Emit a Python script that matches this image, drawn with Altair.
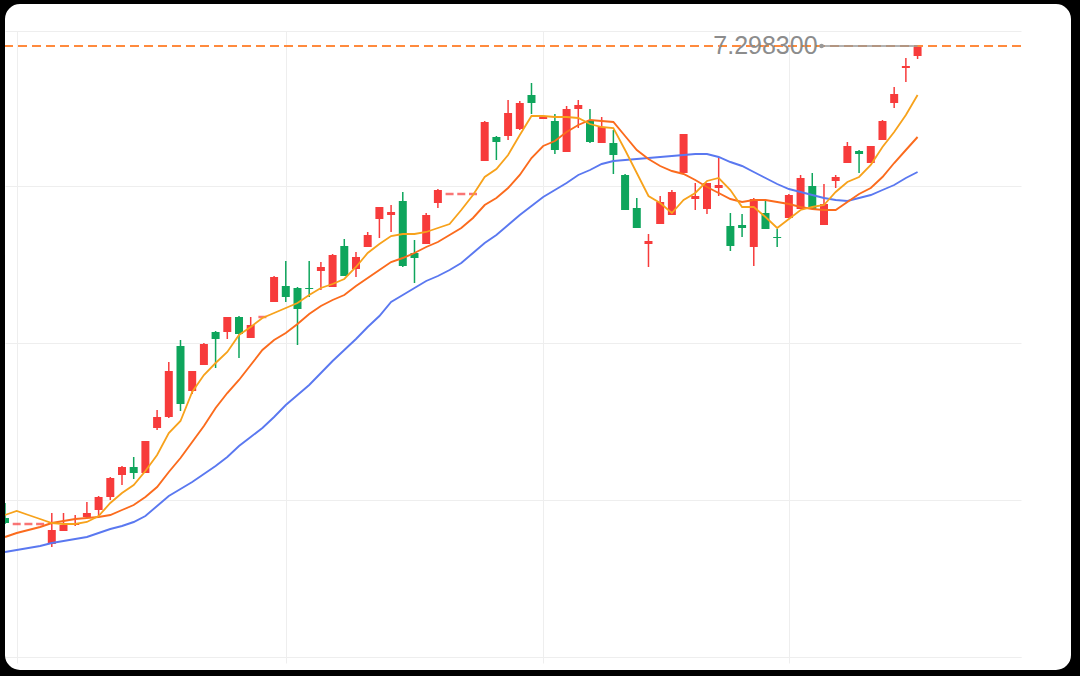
import altair as alt
import pandas as pd
import numpy as np

# ---- data (price units) ----
opens = [6.8263, 6.8203, 6.8203, 6.8203, 6.8003, 6.8133, 6.8193, 6.8273, 6.8343, 6.8473,
         6.8693, 6.8773, 6.8713, 6.9163, 6.9273, 6.9983, 6.9533, 6.9793, 7.0123, 7.0123,
         7.0273, 7.0063, 7.0273, 7.0423, 7.0583, 7.0563, 7.0563, 7.0733, 7.0573, 7.0983,
         7.0753, 7.0973, 7.1253, 7.1293, 7.1433, 7.0913, 7.1003, 7.1413, 7.1503, 7.1503,
         7.1503, 7.1833, 7.2073, 7.2083, 7.2153, 7.2493, 7.2253, 7.2233, 7.1923, 7.2353,
         7.2233, 7.2013, 7.2013, 7.1693, 7.1363, 7.1003, 7.1203, 7.1293, 7.1713, 7.1453,
         7.1353, 7.1563, 7.1183, 7.1193, 7.0973, 7.1313, 7.1073, 7.1263, 7.1353, 7.1583,
         7.1193, 7.1633, 7.1813, 7.1933, 7.1813, 7.2043, 7.2413, 7.2763, 7.2883]
highs = [6.8413, 6.8203, 6.8203, 6.8203, 6.8313, 6.8313, 6.8293, 6.8423, 6.8483, 6.8673,
         6.8783, 6.8873, 6.9033, 6.9343, 6.9823, 7.0043, 6.9733, 7.0013, 7.0133, 7.0273,
         7.0283, 7.0273, 7.0273, 7.0683, 7.0833, 7.0573, 7.0833, 7.0823, 7.0903, 7.1053,
         7.0923, 7.1123, 7.1373, 7.1393, 7.1523, 7.1043, 7.1313, 7.1553, 7.1503, 7.1503,
         7.1503, 7.2233, 7.2083, 7.2443, 7.2433, 7.2613, 7.2273, 7.2303, 7.2383, 7.2443,
         7.2353, 7.2273, 7.2143, 7.1703, 7.1463, 7.1103, 7.1483, 7.1543, 7.2103, 7.1613,
         7.1613, 7.1863, 7.1313, 7.1303, 7.1463, 7.1433, 7.1153, 7.1503, 7.1693, 7.1713,
         7.1603, 7.1693, 7.2023, 7.1943, 7.1983, 7.2243, 7.2573, 7.2863, 7.2983]
lows = [6.8203, 6.8203, 6.8203, 6.8203, 6.7973, 6.8133, 6.8183, 6.8263, 6.8273, 6.8443,
        6.8593, 6.8653, 6.8713, 6.9143, 6.9263, 6.9333, 6.9503, 6.9793, 6.9763, 7.0053,
        6.9863, 7.0063, 7.0273, 7.0423, 7.0423, 6.9993, 7.0473, 7.0543, 7.0573, 7.0683,
        7.0673, 7.0973, 7.1063, 7.1123, 7.0773, 7.0613, 7.1003, 7.1363, 7.1503, 7.1503,
        7.1503, 7.1833, 7.1843, 7.2043, 7.2143, 7.2303, 7.2253, 7.1903, 7.1923, 7.2163,
        7.2013, 7.2013, 7.1703, 7.1343, 7.1163, 7.0773, 7.1203, 7.1293, 7.1713, 7.1343,
        7.1303, 7.1483, 7.0933, 7.1073, 7.0783, 7.1153, 7.0973, 7.1263, 7.1353, 7.1353,
        7.1193, 7.1563, 7.1813, 7.1713, 7.1813, 7.2043, 7.2363, 7.2623, 7.2853]
closes = [6.8213, 6.8203, 6.8203, 6.8203, 6.8143, 6.8193, 6.8213, 6.8313, 6.8473, 6.8663,
          6.8773, 6.8713, 6.9033, 6.9273, 6.9733, 6.9403, 6.9733, 7.0003, 7.0053, 7.0273,
          7.0103, 7.0193, 7.0273, 7.0673, 7.0473, 7.0353, 7.0553, 7.0773, 7.0893, 7.0683,
          7.0873, 7.1093, 7.1373, 7.1323, 7.0783, 7.0863, 7.1293, 7.1543, 7.1503, 7.1503,
          7.1503, 7.2223, 7.2023, 7.2313, 7.2413, 7.2413, 7.2273, 7.1943, 7.2353, 7.2393,
          7.2023, 7.2173, 7.1893, 7.1343, 7.1163, 7.1033, 7.1423, 7.1523, 7.2103, 7.1483,
          7.1613, 7.1593, 7.0983, 7.1163, 7.1453, 7.1153, 7.1063, 7.1493, 7.1663, 7.1353,
          7.1403, 7.1673, 7.1983, 7.1903, 7.1983, 7.2233, 7.2503, 7.2783, 7.2973]
ma5 = [6.8293, 6.8333, 6.8293, 6.8253, 6.8213, 6.8203, 6.8203, 6.8223, 6.8283, 6.8413,
       6.8513, 6.8593, 6.8733, 6.8893, 6.9113, 6.9233, 6.9523, 6.9693, 6.9813, 6.9923,
       7.0093, 7.0173, 7.0263, 7.0313, 7.0363, 7.0413, 7.0493, 7.0563, 7.0603, 7.0653,
       7.0773, 7.0913, 7.1003, 7.1083, 7.1103, 7.1103, 7.1123, 7.1163, 7.1203, 7.1343,
       7.1493, 7.1673, 7.1753, 7.1893, 7.2093, 7.2283, 7.2283, 7.2273, 7.2273, 7.2263,
       7.2203, 7.2173, 7.2163, 7.1943, 7.1713, 7.1483, 7.1413, 7.1313, 7.1443, 7.1513,
       7.1633, 7.1663, 7.1543, 7.1373, 7.1373, 7.1273, 7.1163, 7.1253, 7.1343, 7.1373,
       7.1393, 7.1523, 7.1623, 7.1673, 7.1793, 7.1973, 7.2123, 7.2293, 7.2493]
ma10 = [6.8073, 6.8113, 6.8143, 6.8173, 6.8213, 6.8233, 6.8253, 6.8263, 6.8273, 6.8293,
        6.8343, 6.8393, 6.8473, 6.8573, 6.8723, 6.8863, 6.9023, 6.9183, 6.9363, 6.9513,
        6.9643, 6.9793, 6.9943, 7.0043, 7.0113, 7.0203, 7.0303, 7.0383, 7.0443, 7.0493,
        7.0583, 7.0663, 7.0743, 7.0823, 7.0863, 7.0913, 7.0973, 7.1023, 7.1093, 7.1163,
        7.1263, 7.1393, 7.1463, 7.1563, 7.1693, 7.1863, 7.1983, 7.2033, 7.2123, 7.2193,
        7.2243, 7.2233, 7.2223, 7.2083, 7.1943, 7.1853, 7.1783, 7.1733, 7.1703, 7.1643,
        7.1573, 7.1513, 7.1453, 7.1423, 7.1443, 7.1443, 7.1423, 7.1403, 7.1373, 7.1353,
        7.1343, 7.1343, 7.1423, 7.1503, 7.1563, 7.1673, 7.1813, 7.1943, 7.2073]
ma20 = [6.7923, 6.7943, 6.7963, 6.7983, 6.8013, 6.8033, 6.8053, 6.8073, 6.8113, 6.8153,
        6.8183, 6.8223, 6.8283, 6.8383, 6.8483, 6.8553, 6.8623, 6.8703, 6.8783, 6.8873,
        6.8983, 6.9073, 6.9163, 6.9273, 6.9393, 6.9493, 6.9593, 6.9713, 6.9833, 6.9943,
        7.0053, 7.0173, 7.0283, 7.0423, 7.0493, 7.0563, 7.0633, 7.0683, 7.0743, 7.0813,
        7.0913, 7.1013, 7.1093, 7.1193, 7.1293, 7.1383, 7.1473, 7.1543, 7.1613, 7.1693,
        7.1743, 7.1803, 7.1833, 7.1843, 7.1853, 7.1863, 7.1873, 7.1883, 7.1893, 7.1903,
        7.1903, 7.1873, 7.1823, 7.1783, 7.1723, 7.1663, 7.1603, 7.1553, 7.1523, 7.1493,
        7.1463, 7.1443, 7.1433, 7.1463, 7.1493, 7.1543, 7.1593, 7.1663, 7.1723]
month_start_idx = [1, 24, 46, 67]
grid_levels = [6.6873, 6.8443, 7.0013, 7.1583, 7.3133]

RED = "#f73b3b"
GREEN = "#0ea55c"

n = len(opens)
df = pd.DataFrame({"i": list(range(n)), "open": opens, "high": highs, "low": lows,
                   "close": closes, "ma5": ma5, "ma10": ma10, "ma20": ma20})
df["dir"] = np.where(df["close"] >= df["open"], "up", "down")

imax = int(np.argmax(highs))
maxdf = pd.DataFrame({"i": [imax], "high": [highs[imax]],
                      "label": [f"{highs[imax]:.6f}"]})

xs = alt.Scale(domain=[0, 86.84], nice=False, zero=False, padding=0)
ys = alt.Scale(domain=[grid_levels[0], grid_levels[-1]], nice=False, zero=False, padding=0)
col = alt.Color("dir:N", scale=alt.Scale(domain=["up", "down"], range=[RED, GREEN]), legend=None)

base = alt.Chart(df)

wick = base.mark_rule(strokeWidth=1.5).encode(
    x=alt.X("i:Q", scale=xs, axis=alt.Axis(values=month_start_idx, labels=False, ticks=True,
                                           tickSize=6, tickColor="#eeeeee", grid=True,
                                           gridColor="#eeeeee", domainColor="#eeeeee", title=None)),
    y=alt.Y("low:Q", scale=ys, axis=alt.Axis(values=grid_levels, labels=False, ticks=False,
                                             domain=False, grid=True, gridColor="#eeeeee",
                                             title=None)),
    y2="high:Q",
    color=col,
)
body = base.mark_bar(size=8).encode(x=alt.X("i:Q", scale=xs), y=alt.Y("open:Q", scale=ys),
                                    y2="close:Q", color=col)
flat = base.transform_filter("datum.open == datum.close").mark_tick(
    orient="horizontal", size=8, thickness=2.5).encode(
    x=alt.X("i:Q", scale=xs), y=alt.Y("close:Q", scale=ys), color=col)

line20 = base.mark_line(color="#5a78f0", strokeWidth=1.9).encode(
    x=alt.X("i:Q", scale=xs), y=alt.Y("ma20:Q", scale=ys))
line10 = base.mark_line(color="#fb6b1d", strokeWidth=1.9).encode(
    x=alt.X("i:Q", scale=xs), y=alt.Y("ma10:Q", scale=ys))
line5 = base.mark_line(color="#f7a21b", strokeWidth=1.8).encode(
    x=alt.X("i:Q", scale=xs), y=alt.Y("ma5:Q", scale=ys))

mx = alt.Chart(maxdf)
dash = mx.mark_rule(color="#ff8a3d", strokeWidth=2, strokeDash=[9, 5]).encode(
    y=alt.Y("high:Q", scale=ys))
pointer = mx.mark_rule(color="#999999", strokeWidth=1.5, x2Offset=-96).encode(
    x=alt.X("i:Q", scale=xs), x2="i:Q", y=alt.Y("high:Q", scale=ys))
dot = mx.mark_circle(size=22, color="#999999", opacity=1, xOffset=-96).encode(
    x=alt.X("i:Q", scale=xs), y=alt.Y("high:Q", scale=ys))
label = mx.mark_text(align="right", baseline="middle", dx=-100, fontSize=25,
                     font="Liberation Sans", color="#8c8c8c").encode(
    x=alt.X("i:Q", scale=xs), y=alt.Y("high:Q", scale=ys), text="label:N")

frame = alt.Chart(pd.DataFrame({"k": [0]})).mark_rect(
    fill="white", fillOpacity=0, stroke="black", strokeWidth=40, cornerRadius=35).encode(
    x=alt.value(-20), x2=alt.value(1086), y=alt.value(-47), y2=alt.value(659))

chart = alt.layer(wick, body, flat, line20, line10, line5, dash, pointer, dot, label, frame).properties(
    width=1016, height=626,
    padding={"left": 5, "top": 31, "right": 59, "bottom": 19},
    autosize=alt.AutoSizeParams(type="none"),
    background="white",
).configure_view(strokeWidth=0)

chart.save("out.html", embed_options={"renderer": "svg", "actions": False})
